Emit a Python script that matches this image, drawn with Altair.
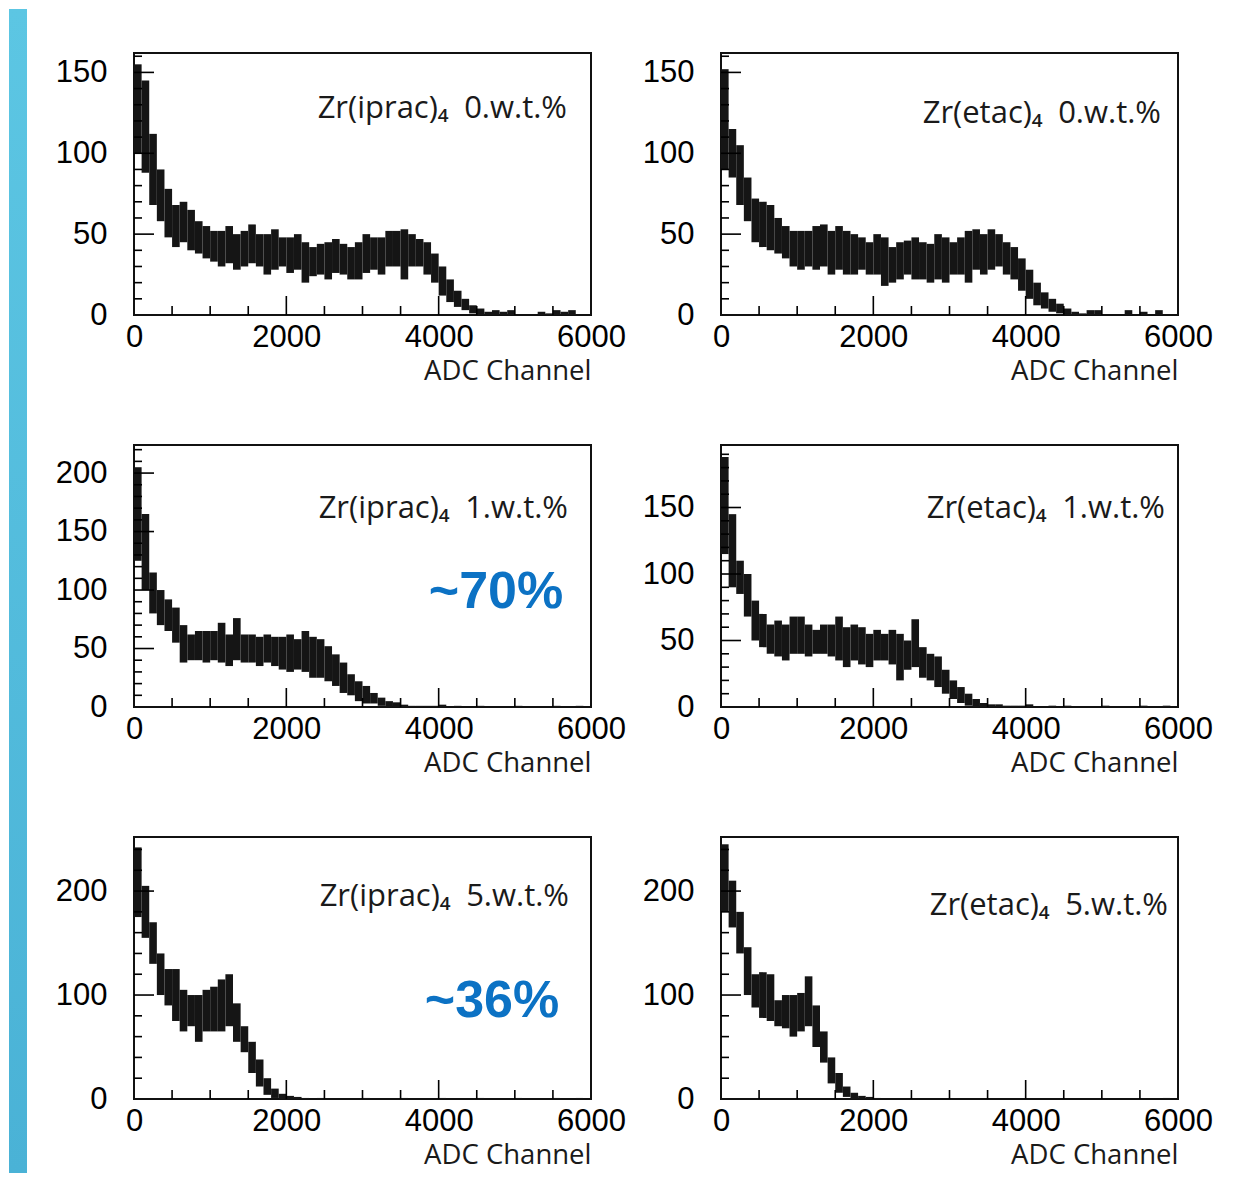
import altair as alt
import pandas as pd

# ---------------- data (100-channel bins, starting at 0) ----------------
BIN_WIDTH = 100

P1_LO = [100, 88, 68, 58, 48, 42, 45, 40, 38, 35, 33, 30, 32, 28, 30, 32, 30, 25, 28, 30,
         26, 28, 20, 24, 25, 22, 26, 25, 22, 22, 26, 28, 25, 30, 30, 22, 30, 30, 25, 20,
         12, 8, 5, 3, 1, 0, 0, 0, 0, 0, 0, 0, 0, 0, 0, 0, 0, 0, 0, 0]
P1_HI = [155, 145, 112, 90, 78, 68, 70, 65, 58, 55, 52, 52, 55, 50, 52, 56, 50, 50, 53, 48,
         48, 50, 45, 42, 44, 45, 47, 44, 42, 45, 50, 48, 48, 52, 52, 53, 50, 47, 45, 38,
         30, 22, 15, 10, 6, 4, 2, 3, 2, 3, 0, 0, 0, 2, 1, 3, 2, 3, 0, 0]

P2_LO = [90, 85, 68, 58, 45, 42, 40, 38, 35, 30, 28, 30, 28, 30, 25, 28, 25, 25, 28, 25,
         25, 18, 20, 22, 25, 22, 22, 20, 22, 20, 25, 25, 20, 28, 25, 28, 30, 25, 22, 15,
         10, 6, 4, 2, 1, 0, 0, 0, 0, 0, 0, 0, 0, 0, 0, 0, 0, 0, 0, 0]
P2_HI = [152, 115, 105, 85, 72, 70, 68, 60, 55, 52, 52, 52, 55, 56, 52, 55, 52, 50, 48, 45,
         50, 48, 42, 45, 46, 48, 45, 44, 50, 48, 45, 48, 52, 53, 50, 53, 50, 45, 42, 35,
         28, 20, 14, 10, 7, 4, 2, 1, 3, 3, 0, 0, 0, 3, 0, 2, 0, 3, 0, 0]

P3_LO = [125, 100, 80, 70, 65, 55, 38, 40, 40, 38, 40, 38, 35, 40, 38, 38, 35, 38, 35, 32,
         30, 32, 30, 25, 25, 22, 18, 12, 10, 5, 3, 3, 1, 0, 0, 0, 0, 0, 0, 0,
         0, 0, 0, 0, 0, 0, 0, 0, 0, 0, 0, 0, 0, 0, 0, 0, 0, 0, 0, 0]
P3_HI = [205, 165, 115, 100, 92, 85, 70, 62, 65, 65, 65, 72, 62, 76, 62, 62, 60, 62, 60, 60,
         62, 58, 65, 60, 58, 52, 45, 38, 28, 22, 18, 12, 8, 5, 4, 2, 1, 1, 1, 1,
         2, 0, 1, 0, 0, 1, 0, 0, 0, 0, 1, 0, 0, 0, 0, 1, 0, 0, 1, 0]

P4_LO = [115, 90, 85, 68, 50, 45, 40, 38, 35, 40, 40, 38, 40, 40, 38, 35, 30, 35, 32, 30,
         35, 35, 32, 20, 28, 30, 22, 20, 15, 10, 6, 3, 1, 0, 0, 0, 0, 0, 0, 0,
         0, 0, 0, 0, 0, 0, 0, 0, 0, 0, 0, 0, 0, 0, 0, 0, 0, 0, 0, 0]
P4_HI = [188, 145, 110, 100, 80, 70, 62, 65, 62, 68, 68, 62, 58, 62, 62, 68, 60, 62, 60, 55,
         58, 55, 58, 55, 50, 66, 45, 40, 38, 28, 20, 15, 10, 6, 3, 2, 2, 1, 1, 1,
         2, 0, 0, 1, 0, 1, 0, 0, 0, 0, 1, 0, 0, 0, 0, 1, 0, 0, 1, 0]

P5_LO = [175, 155, 130, 100, 90, 75, 65, 70, 55, 65, 65, 65, 70, 55, 45, 25, 12, 4, 1, 0,
         0, 0, 0, 0, 0, 0, 0, 0, 0, 0, 0, 0, 0, 0, 0, 0, 0, 0, 0, 0,
         0, 0, 0, 0, 0, 0, 0, 0, 0, 0, 0, 0, 0, 0, 0, 0, 0, 0, 0, 0]
P5_HI = [242, 205, 170, 140, 125, 125, 105, 100, 100, 105, 108, 115, 120, 92, 70, 55, 38, 20, 10, 5,
         3, 2, 1, 0, 1, 0, 0, 0, 0, 0, 1, 0, 0, 0, 0, 1, 0, 0, 0, 0,
         1, 0, 0, 0, 0, 1, 0, 0, 0, 0, 1, 0, 0, 0, 0, 1, 0, 0, 1, 0]

P6_LO = [180, 165, 140, 100, 88, 78, 75, 70, 68, 60, 65, 70, 50, 35, 15, 6, 2, 0, 0, 0,
         0, 0, 0, 0, 0, 0, 0, 0, 0, 0, 0, 0, 0, 0, 0, 0, 0, 0, 0, 0,
         0, 0, 0, 0, 0, 0, 0, 0, 0, 0, 0, 0, 0, 0, 0, 0, 0, 0, 0, 0]
P6_HI = [245, 210, 180, 146, 120, 122, 120, 95, 100, 100, 102, 118, 90, 65, 40, 25, 12, 6, 3, 2,
         1, 0, 0, 0, 0, 0, 0, 0, 0, 0, 0, 0, 0, 0, 0, 0, 0, 0, 0, 0,
         0, 0, 0, 0, 0, 0, 0, 0, 0, 0, 0, 0, 0, 0, 0, 0, 0, 0, 1, 0]

Y_MAX = [162, 162, 224, 197, 252, 252]
Y_LABELS = [[0, 50, 100, 150], [0, 50, 100, 150], [0, 50, 100, 150, 200],
            [0, 50, 100, 150], [0, 100, 200], [0, 100, 200]]
Y_MINOR_STEP = [10, 10, 10, 10, 20, 20]
X_LABELS = [0, 2000, 4000, 6000]
X_MINOR = [500, 1000, 1500, 2500, 3000, 3500, 4500, 5000, 5500]
X_MAJOR = [2000, 4000]

GAP = "\u2002"
PANEL_LABELS = ["Zr(iprac)₄" + GAP + "0.w.t.%", "Zr(etac)₄" + GAP + "0.w.t.%",
                "Zr(iprac)₄" + GAP + "1.w.t.%", "Zr(etac)₄" + GAP + "1.w.t.%",
                "Zr(iprac)₄" + GAP + "5.w.t.%", "Zr(etac)₄" + GAP + "5.w.t.%"]
PANEL_LABEL_POS = [(433, 65), (440, 70), (434, 73), (444, 73), (435, 69), (447, 78)]
EFFICIENCY = {2: ("~70%", 362, 147), 4: ("~36%", 358, 164)}

LOS = [P1_LO, P2_LO, P3_LO, P4_LO, P5_LO, P6_LO]
HIS = [P1_HI, P2_HI, P3_HI, P4_HI, P5_HI, P6_HI]

W, H = 457, 262
NUM_FONT = "Liberation Sans"
TXT_FONT = "Open Sans"


def panel(i):
    lo, hi = LOS[i], HIS[i]
    ymax = Y_MAX[i]
    df = pd.DataFrame({
        "x0": [k * BIN_WIDTH for k in range(len(lo))],
        "x1": [(k + 1) * BIN_WIDTH for k in range(len(lo))],
        "lo": lo,
        "hi": hi,
    })
    df = df[df["hi"] > df["lo"]]
    xs = alt.Scale(domain=[0, 6000], nice=False, zero=False)
    ys = alt.Scale(domain=[0, ymax], nice=False, zero=False)

    hist = alt.Chart(df).mark_rect(color="#151515").encode(
        x=alt.X("x0:Q", scale=xs, axis=alt.Axis(
            values=X_LABELS, format="d", title="ADC Channel", titleAnchor="end",
            labelFlush=False, labelOverlap=False, labelBound=False)),
        x2="x1:Q",
        y=alt.Y("lo:Q", scale=ys, axis=alt.Axis(
            values=Y_LABELS[i], format="d", title=None, labelFlush=False,
            labelOverlap=False, labelBound=False)),
        y2="hi:Q",
    )

    # inward tick marks (ROOT style)
    xmaj = alt.Chart(pd.DataFrame({"t": X_MAJOR})).mark_rule(
        color="black", strokeWidth=1.6).encode(
        x=alt.X("t:Q", scale=xs), y=alt.value(H), y2=alt.value(H - 19))
    xmin = alt.Chart(pd.DataFrame({"t": X_MINOR})).mark_rule(
        color="black", strokeWidth=1.6).encode(
        x=alt.X("t:Q", scale=xs), y=alt.value(H), y2=alt.value(H - 9))
    step = Y_MINOR_STEP[i]
    minor_vals = [v for v in range(step, ymax + 1, step) if v not in Y_LABELS[i]]
    ymaj = alt.Chart(pd.DataFrame({"t": [v for v in Y_LABELS[i] if v > 0]})).mark_rule(
        color="black", strokeWidth=1.6).encode(
        y=alt.Y("t:Q", scale=ys), x=alt.value(0), x2=alt.value(20))
    ymin = alt.Chart(pd.DataFrame({"t": minor_vals})).mark_rule(
        color="black", strokeWidth=1.6).encode(
        y=alt.Y("t:Q", scale=ys), x=alt.value(0), x2=alt.value(8))

    px, py = PANEL_LABEL_POS[i]
    lab = alt.Chart(pd.DataFrame({"s": [PANEL_LABELS[i]]})).mark_text(
        align="right", baseline="alphabetic", font=TXT_FONT, fontSize=31,
        color="#1a1a1a").encode(text="s:N", x=alt.value(px), y=alt.value(py))

    layers = [hist, xmin, xmaj, ymin, ymaj, lab]

    if i in EFFICIENCY:
        s, ex, ey = EFFICIENCY[i]
        eff = alt.Chart(pd.DataFrame({"s": [s]})).mark_text(
            align="center", baseline="middle", font=NUM_FONT, fontSize=52,
            fontWeight="bold", color="#0c72c4").encode(
            text="s:N", x=alt.value(ex), y=alt.value(ey))
        layers.append(eff)

    if i == 0:
        grad = alt.Gradient(gradient="linear",
                            stops=[alt.GradientStop(color="#5cc6e3", offset=0),
                                   alt.GradientStop(color="#4ab2d6", offset=1)],
                            x1=0, x2=0, y1=0, y2=1)
        strip = alt.Chart(pd.DataFrame({"a": [0]})).mark_rect(color=grad).encode(
            x=alt.value(-125), x2=alt.value(-107), y=alt.value(-44), y2=alt.value(1120))
        layers.insert(0, strip)

    return alt.layer(*layers).properties(width=W, height=H)


chart = alt.concat(*[panel(i) for i in range(6)], columns=2, spacing=130,
                   bounds="flush").properties(padding=0).configure_view(
    stroke="#111111", strokeWidth=2).configure_axis(
    ticks=False, domain=False, grid=False,
    labelFont=NUM_FONT, labelFontSize=31, labelColor="black",
    titleFont=TXT_FONT, titleFontSize=27.5, titleFontWeight="normal", titleColor="#1a1a1a",
).configure_axisX(labelPadding=7, titlePadding=5).configure_axisY(labelPadding=27)

chart.save("out.html", embed_options={"renderer": "svg", "actions": False})
